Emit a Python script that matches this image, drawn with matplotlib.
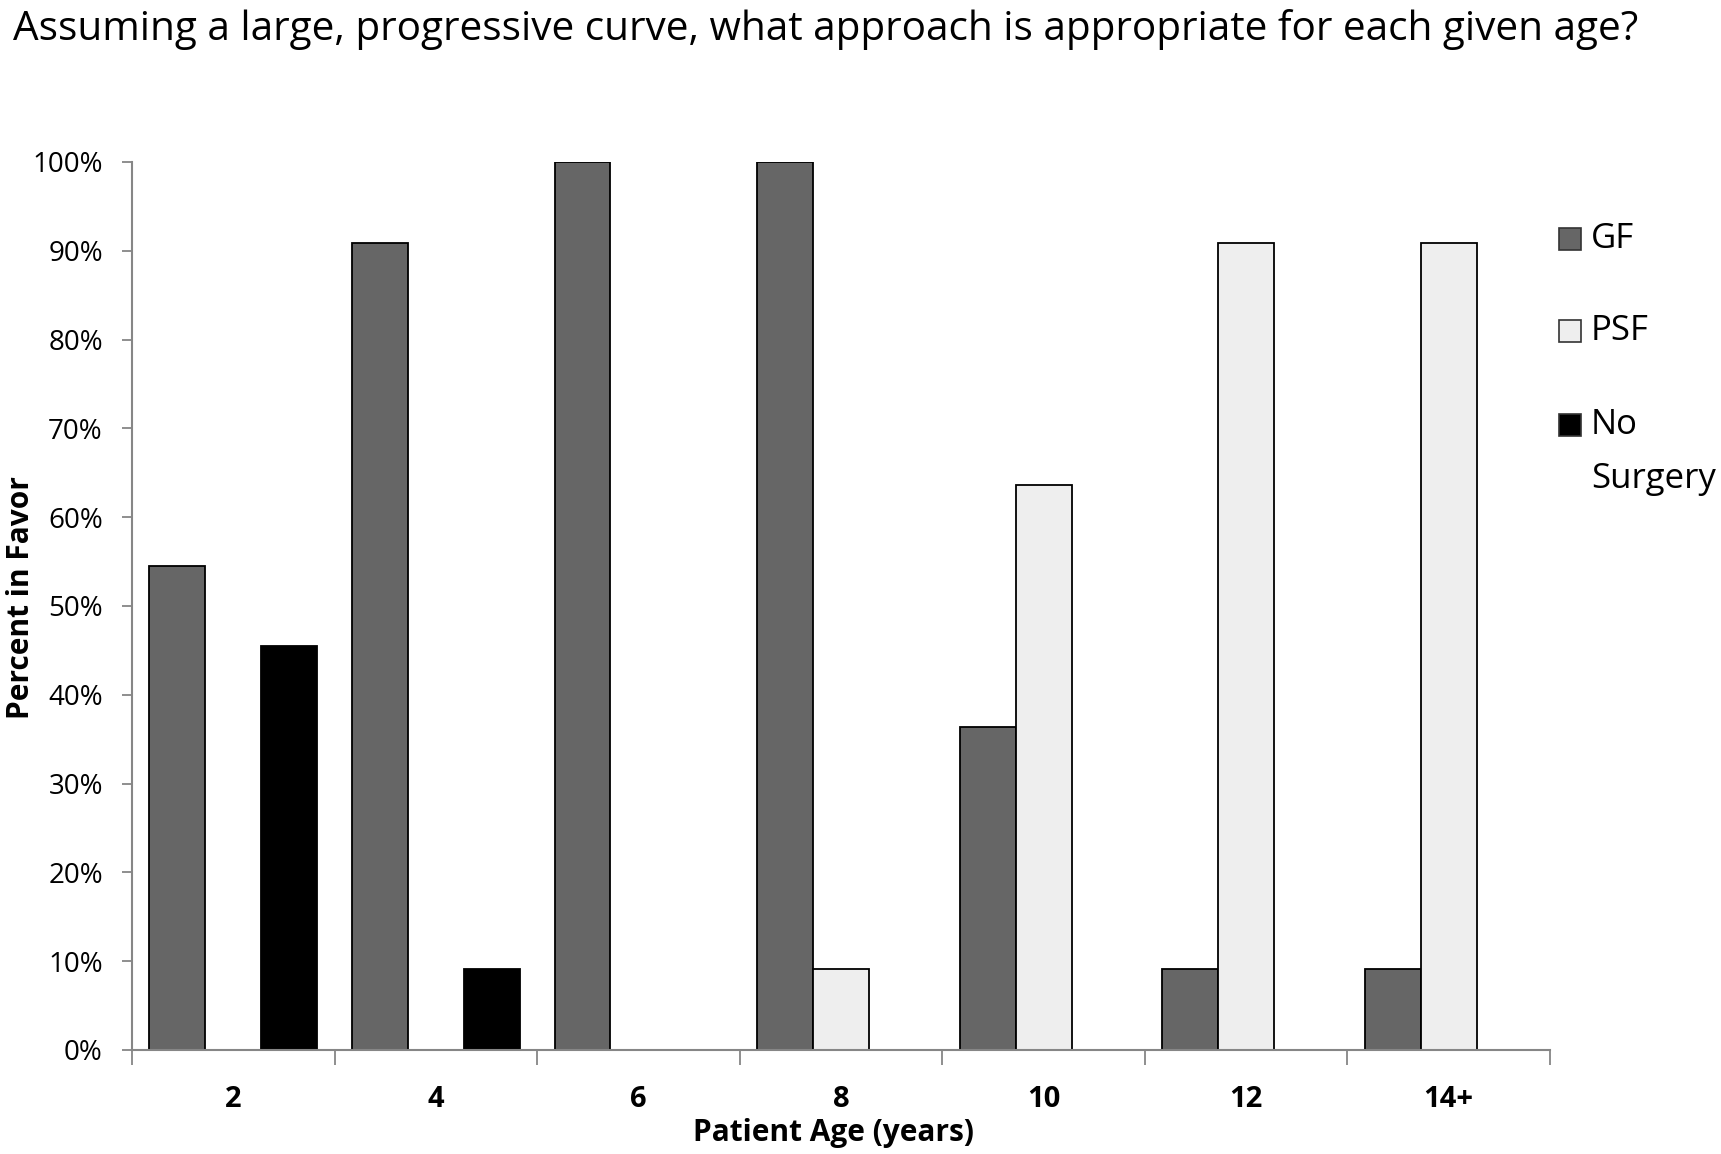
"""
Survey chart: preferred surgical approach by patient age
(large, progressive curve).
"""

import numpy as np
import matplotlib.pyplot as plt
from matplotlib.patches import Rectangle

# ── data ────────────────────────────────────────────
AGES = ["2", "4", "6", "8", "10", "12", "14+"]
GF = [0.545, 0.909, 1.0, 1.0, 0.364, 0.091, 0.091]
PSF = [0.0, 0.0, 0.0, 0.091, 0.636, 0.909, 0.909]
NO_SURGERY = [0.455, 0.091, 0.0, 0.0, 0.0, 0.0, 0.0]

SERIES = ["GF", "PSF", "No Surgery"]
COLORS = ["#666666", "#eeeeee", "#000000"]

FONT = "Open Sans"
AXIS_GREY = "#868686"
W, H = 1721, 1154

plt.rcParams["font.family"] = FONT

fig = plt.figure(figsize=(W / 100, H / 100), dpi=100)
ax = fig.add_axes([132 / W, 1 - 1050 / H, (1550 - 132) / W, (1050 - 162) / H])

x = np.arange(len(AGES))
bw = 0.276
for i, (vals, col) in enumerate(zip([GF, PSF, NO_SURGERY], COLORS)):
    lw = [0 if v == 0 else 1.3 for v in vals]
    ax.bar(x + (i - 1) * bw, vals, width=bw, color=col,
           edgecolor="black", linewidth=lw, zorder=2)

ax.set_xlim(-0.5, len(AGES) - 0.5)
ax.set_ylim(0, 1)

# y axis
ax.set_yticks(np.arange(0, 1.01, 0.1))
ax.set_yticklabels([f"{v:.0%}" for v in np.arange(0, 1.01, 0.1)])
ax.tick_params(axis="y", direction="out", length=7, width=1.3,
               color=AXIS_GREY, pad=14, labelsize=20)

# x axis: ticks on category boundaries, labels in the middle
ax.set_xticks(np.arange(-0.5, len(AGES), 1.0))
ax.set_xticklabels([])
ax.set_xticks(x, minor=True)
ax.set_xticklabels(AGES, minor=True, fontsize=21, fontweight="bold")
ax.tick_params(axis="x", which="major", direction="out", length=11,
               width=1.3, color=AXIS_GREY)
ax.tick_params(axis="x", which="minor", length=0, pad=25)

for side in ["top", "right"]:
    ax.spines[side].set_visible(False)
for side in ["left", "bottom"]:
    ax.spines[side].set_color(AXIS_GREY)
    ax.spines[side].set_linewidth(1.5)

ax.set_xlabel("Patient Age (years)", fontsize=21.5, fontweight="bold")
ax.xaxis.set_label_coords(0.495, -0.077)
ax.set_ylabel("Percent in Favor", fontsize=21.5, fontweight="bold")
ax.yaxis.set_label_coords(-0.068, 0.509)

# title
fig.text(13 / W, 1 - 29 / H,
         "Assuming a large, progressive curve, what approach is appropriate "
         "for each given age?", fontsize=29.2, ha="left", va="center")

# legend, drawn by hand to keep the Excel look
sq = 22
legend_rows = [(SERIES[0], COLORS[0], 239),
               (SERIES[1], COLORS[1], 331),
               ("No", COLORS[2], 425)]
for label, col, yc in legend_rows:
    fig.add_artist(Rectangle(((1559) / W, 1 - (yc + sq / 2) / H),
                             sq / W, sq / H, transform=fig.transFigure,
                             facecolor=col, edgecolor="#333333",
                             linewidth=1.2))
    fig.text(1591 / W, 1 - yc / H, label, fontsize=25,
             ha="left", va="center")
fig.text(1591 / W, 1 - 479 / H, "Surgery", fontsize=25,
         ha="left", va="center")

plt.savefig("out.png", dpi=100)
plt.close()
